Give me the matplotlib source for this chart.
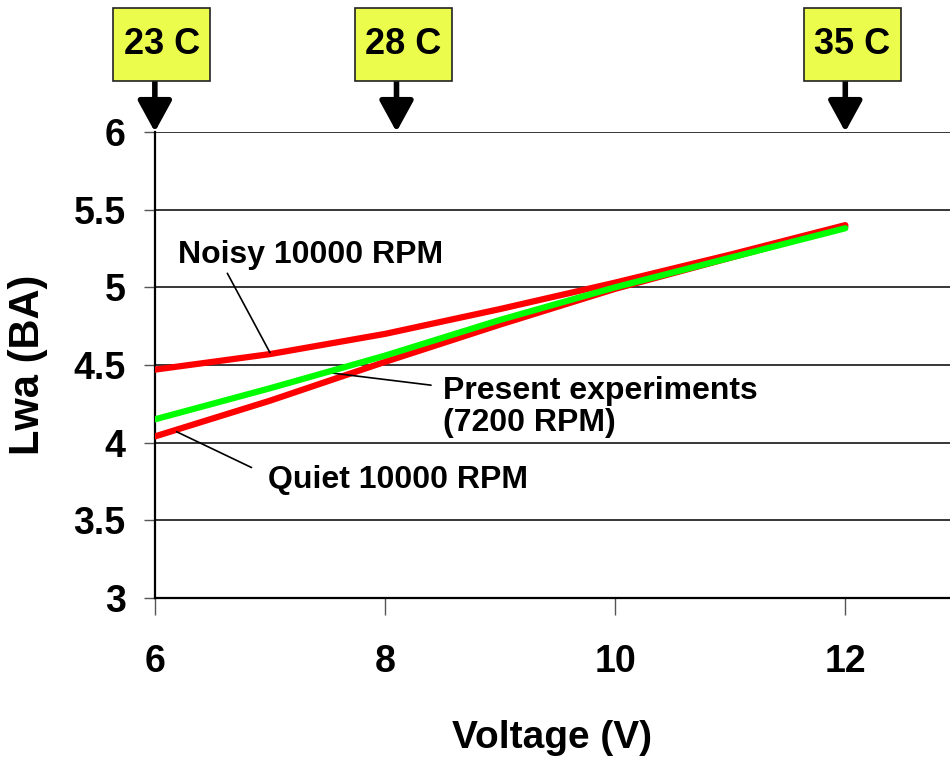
import matplotlib
matplotlib.use("Agg")
import matplotlib.pyplot as plt
from matplotlib.patches import Rectangle

plt.rcParams['font.family'] = ['Liberation Sans', 'DejaVu Sans']
plt.rcParams['font.weight'] = 'bold'

# data
voltage = [6, 7, 8, 9, 10, 11, 12]
noisy_10000 = [4.47, 4.57, 4.70, 4.86, 5.03, 5.21, 5.40]
present_7200 = [4.15, 4.35, 4.56, 4.79, 5.00, 5.19, 5.38]
quiet_10000 = [4.04, 4.27, 4.52, 4.76, 4.99, 5.19, 5.39]

temp_labels = ["23 C", "28 C", "35 C"]
temp_voltage = [6.0, 8.1, 12.0]

x_ticks = [6, 8, 10, 12]
y_ticks = [3, 3.5, 4, 4.5, 5, 5.5, 6]

fig = plt.figure(figsize=(9.5, 7.58), dpi=100)
ax = fig.add_axes([0.163, 0.211, 0.837, 0.615])

for y in y_ticks[1:]:
    ax.axhline(y, color='black', lw=1.1, zorder=1)

ax.plot(voltage, noisy_10000, color='#ff0000', lw=4.5, solid_capstyle='round', zorder=3)
ax.plot(voltage, quiet_10000, color='#ff0000', lw=4.5, solid_capstyle='round', zorder=3)
ax.plot(voltage, present_7200, color='#00ff00', lw=4.5, solid_capstyle='round', zorder=4)

ax.set_xlim(6, 12.91)
ax.set_ylim(3, 6)
ax.set_xticks(x_ticks)
ax.set_yticks(y_ticks)
ax.set_yticklabels(['3', '3.5', '4', '4.5', '5', '5.5', '6'])

for s in ['top', 'right']:
    ax.spines[s].set_visible(False)
ax.spines['left'].set_linewidth(1.6)
ax.spines['bottom'].set_linewidth(1.6)
ax.tick_params(axis='y', direction='out', length=8, width=1, color='#555555',
               labelsize=27, pad=13)
ax.tick_params(axis='x', direction='out', length=12, width=1, color='#555555',
               labelsize=27, pad=21)

ax.set_xlabel('Voltage (V)', fontsize=28, fontweight='bold', labelpad=29)
ax.set_ylabel('Lwa (BA)', fontsize=30, fontweight='bold', labelpad=18)

# temperature markers: yellow box with a downward arrow
box_w, box_bottom, box_top = 0.84, 6.33, 6.80
for lab, v in zip(temp_labels, temp_voltage):
    cx = v + 0.06
    ax.add_patch(Rectangle((cx - box_w / 2, box_bottom), box_w, box_top - box_bottom,
                           fc='#ecfc4c', ec='#222222', lw=1.2, clip_on=False, zorder=5))
    ax.text(cx, (box_bottom + box_top) / 2, lab, ha='center', va='center',
            fontsize=26, fontweight='bold', zorder=6, clip_on=False)
    ax.annotate('', xy=(v, 6), xytext=(v, box_bottom), annotation_clip=False,
                arrowprops=dict(arrowstyle='-|>,head_length=0.95,head_width=0.52',
                                mutation_scale=20, lw=4, color='black',
                                shrinkA=0, shrinkB=0))

# leader-line labels
ax.annotate('', xy=(7.0, 4.58), xytext=(6.63, 5.09),
            arrowprops=dict(arrowstyle='-', lw=1.2, color='black', shrinkA=0, shrinkB=0))
ax.text(6.2, 5.21, 'Noisy 10000 RPM', fontsize=23, fontweight='bold', va='center', ha='left')

ax.annotate('', xy=(7.52, 4.45), xytext=(8.4, 4.37),
            arrowprops=dict(arrowstyle='-', lw=1.2, color='black', shrinkA=0, shrinkB=0))
ax.text(8.5, 4.23, 'Present experiments\n(7200 RPM)', fontsize=23, fontweight='bold',
        va='center', ha='left', linespacing=1.1)

ax.annotate('', xy=(6.19, 4.07), xytext=(6.84, 3.84),
            arrowprops=dict(arrowstyle='-', lw=1.2, color='black', shrinkA=0, shrinkB=0))
ax.text(6.98, 3.76, 'Quiet 10000 RPM', fontsize=23, fontweight='bold', va='center', ha='left')

fig.savefig('out.png', dpi=100)
